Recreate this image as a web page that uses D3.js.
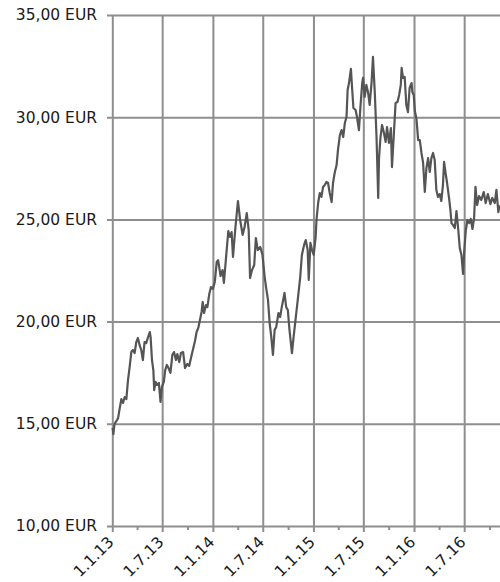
<!DOCTYPE html>
<html><head><meta charset="utf-8">
<script src="https://cdn.jsdelivr.net/npm/d3@7"></script>
<style>html,body{margin:0;padding:0;background:#fff;overflow:hidden}</style>
</head><body><svg id="c" width="500" height="582"></svg>
<script>
const dates = ["2013-01-02","2013-01-05","2013-01-09","2013-01-16","2013-01-22","2013-01-28","2013-02-03","2013-02-09","2013-02-15","2013-02-21","2013-02-27","2013-03-05","2013-03-11","2013-03-17","2013-03-23","2013-03-29","2013-04-04","2013-04-10","2013-04-16","2013-04-22","2013-04-28","2013-05-04","2013-05-10","2013-05-17","2013-05-20","2013-05-25","2013-05-30","2013-06-02","2013-06-07","2013-06-12","2013-06-19","2013-06-25","2013-06-30","2013-07-07","2013-07-12","2013-07-18","2013-07-24","2013-07-31","2013-08-07","2013-08-13","2013-08-20","2013-08-25","2013-09-01","2013-09-07","2013-09-15","2013-09-22","2013-09-30","2013-10-07","2013-10-16","2013-10-22","2013-10-28","2013-11-03","2013-11-09","2013-11-15","2013-11-21","2013-11-25","2013-11-30","2013-12-07","2013-12-12","2013-12-19","2013-12-25",
"2014-01-01","2014-01-08","2014-01-15","2014-01-20","2014-01-29","2014-02-05","2014-02-10","2014-02-17","2014-02-26","2014-03-04","2014-03-10","2014-03-15","2014-03-23","2014-04-02","2014-04-10","2014-04-19","2014-04-26","2014-05-04","2014-05-11","2014-05-16","2014-05-23","2014-05-31","2014-06-06","2014-06-13","2014-06-22","2014-06-30","2014-07-08","2014-07-13","2014-07-20","2014-07-26","2014-08-01","2014-08-07","2014-08-13","2014-08-19","2014-08-27","2014-09-02","2014-09-08","2014-09-18","2014-09-24","2014-09-30","2014-10-06","2014-10-15","2014-10-21","2014-10-29","2014-11-05","2014-11-14","2014-11-20","2014-11-28","2014-12-04","2014-12-11","2014-12-15","2014-12-21","2014-12-27",
"2015-01-02","2015-01-09","2015-01-12","2015-01-18","2015-01-24","2015-01-30","2015-02-05","2015-02-11","2015-02-17","2015-02-23","2015-03-01","2015-03-08","2015-03-13","2015-03-19","2015-03-26","2015-03-31","2015-04-07","2015-04-13","2015-04-19","2015-04-25","2015-05-01","2015-05-05","2015-05-10","2015-05-17","2015-05-21","2015-05-26","2015-06-03","2015-06-08","2015-06-15","2015-06-21","2015-06-27","2015-06-30","2015-07-06","2015-07-12","2015-07-18","2015-07-24","2015-07-31","2015-08-05","2015-08-12","2015-08-18","2015-08-24","2015-08-27","2015-09-01","2015-09-07","2015-09-13","2015-09-20","2015-09-25","2015-10-02","2015-10-09","2015-10-13","2015-10-19","2015-10-26","2015-11-02","2015-11-08","2015-11-14","2015-11-17","2015-11-22","2015-11-28","2015-12-04","2015-12-10","2015-12-16","2015-12-23","2015-12-26","2015-12-31",
"2016-01-04","2016-01-10","2016-01-16","2016-01-22","2016-01-28","2016-02-03","2016-02-09","2016-02-15","2016-02-21","2016-02-27","2016-03-04","2016-03-10","2016-03-16","2016-03-22","2016-03-28","2016-04-03","2016-04-09","2016-04-15","2016-04-19","2016-04-25","2016-04-30","2016-05-07","2016-05-12","2016-05-16","2016-05-21","2016-05-28","2016-06-03","2016-06-09","2016-06-15","2016-06-21","2016-06-27","2016-07-01","2016-07-07","2016-07-13","2016-07-19","2016-07-25","2016-07-31","2016-08-06","2016-08-11","2016-08-17","2016-08-24","2016-09-01","2016-09-10","2016-09-17","2016-09-25","2016-10-04","2016-10-11","2016-10-20","2016-10-26","2016-11-02","2016-11-07"];
const prices = [14.80,14.50,14.99,15.14,15.28,15.77,16.21,16.02,16.31,16.21,17.14,17.78,18.51,18.61,18.46,19.00,19.20,18.86,18.61,18.12,19.00,18.95,19.20,19.49,19.25,18.12,17.63,16.65,17.05,16.90,17.00,16.07,16.80,17.05,17.63,17.88,17.73,17.49,18.37,18.51,18.12,18.41,18.02,18.46,18.51,17.73,17.93,17.83,18.37,18.71,19.05,19.49,19.69,20.08,20.47,20.96,20.42,20.81,20.71,21.35,21.69,
21.60,21.94,22.92,23.01,22.23,22.52,21.89,23.01,24.43,24.14,24.38,23.16,24.48,25.90,24.97,24.24,24.63,25.31,24.48,22.13,22.52,22.77,24.09,23.50,23.65,23.26,22.18,21.69,21.06,19.93,19.25,18.37,19.59,19.74,20.42,20.22,20.71,21.40,20.71,20.57,19.59,18.46,19.25,20.22,21.06,22.18,23.26,23.75,23.99,23.50,22.04,23.85,23.50,
23.26,24.14,24.97,25.80,26.29,26.10,26.59,26.68,26.83,26.78,26.29,25.85,26.78,27.27,27.66,28.40,29.13,29.37,29.03,29.72,30.01,31.33,31.67,32.36,31.48,30.45,30.35,30.01,29.37,30.60,31.67,31.92,30.99,31.58,31.23,30.60,31.72,32.95,31.09,28.98,26.05,28.00,28.98,29.62,29.28,28.79,29.52,28.74,29.47,27.56,28.98,30.69,30.74,31.09,31.58,32.41,31.92,31.97,30.60,30.25,31.43,31.67,31.23,31.09,
30.30,29.91,28.88,28.88,28.25,27.76,26.34,27.51,28.00,27.32,28.00,28.25,27.91,26.44,26.10,26.24,25.90,26.68,27.81,27.22,26.78,26.05,25.46,24.82,24.73,24.58,25.41,24.58,23.60,23.26,22.33,23.41,24.48,24.97,24.82,25.02,24.53,25.07,26.59,25.70,26.14,25.95,26.34,25.80,26.24,25.75,26.05,25.80,26.44,25.36,25.70];
const yTicks = [10, 15, 20, 25, 30, 35];
const xTickDates = ["2013-01-01","2013-07-01","2014-01-01","2014-07-01","2015-01-01","2015-07-01","2016-01-01","2016-07-01"];
const xTickLabels = ["1.1.13","1.7.13","1.1.14","1.7.14","1.1.15","1.7.15","1.1.16","1.7.16"];
const minorTickDates = ["2013-04-01","2013-10-01","2014-04-01","2014-10-01","2015-04-01","2015-10-01","2016-04-01","2016-10-01"];

const parse = d3.utcParse("%Y-%m-%d");
const data = dates.map((d, i) => ({date: parse(d), value: prices[i]}));
const svg = d3.select("#c");
const x = d3.scaleUtc().domain([parse("2013-01-01"), parse("2016-11-08")]).range([112.3, 500]);
const y = d3.scaleLinear().domain([10, 35]).range([526, 15]);
const gridColor = "#8e8e8e";
const fmt = v => d3.format(".2f")(v).replace(".", ",") + " EUR";

// horizontal grid via y axis
const yAxis = d3.axisLeft(y).tickValues(yTicks).tickSize(-(500 - 107)).tickPadding(10).tickFormat(fmt);
const gy = svg.append("g").attr("transform", "translate(107,0)").call(yAxis);
gy.select(".domain").remove();
gy.selectAll(".tick line").attr("stroke", gridColor).attr("stroke-width", 2);
gy.selectAll(".tick text").attr("x", -10).attr("font-family", "DejaVu Sans, Verdana, sans-serif").attr("font-size", 15.5).attr("fill", "#1a1a1a");

// vertical grid via x axis
const xAxis = d3.axisBottom(x).tickValues(xTickDates.map(parse)).tickSize(-(526 - 15)).tickFormat((d, i) => xTickLabels[i]);
const gx = svg.append("g").attr("transform", "translate(0,526)").call(xAxis);
gx.select(".domain").remove();
gx.selectAll(".tick line").attr("stroke", gridColor).attr("stroke-width", 2).attr("y2", -(526 - 15)).attr("y1", 6);
gx.selectAll(".tick text")
  .attr("font-family", "DejaVu Sans, Verdana, sans-serif").attr("font-size", 15.5).attr("fill", "#1a1a1a")
  .attr("text-anchor", "end").attr("dy", null).attr("y", 0)
  .attr("transform", "translate(2,17) rotate(-45)");

// minor ticks
const minorAxis = d3.axisBottom(x).tickValues(minorTickDates.map(parse)).tickSize(4).tickFormat("");
const gm = svg.append("g").attr("transform", "translate(0,526)").call(minorAxis);
gm.select(".domain").remove();
gm.selectAll(".tick line").attr("stroke", gridColor).attr("stroke-width", 2);

// line
const line = d3.line().x(d => x(d.date)).y(d => y(d.value));
svg.append("path").datum(data).attr("d", line)
  .attr("fill", "none").attr("stroke", "#555555").attr("stroke-width", 2.2).attr("stroke-linejoin", "round");
</script></body></html>
